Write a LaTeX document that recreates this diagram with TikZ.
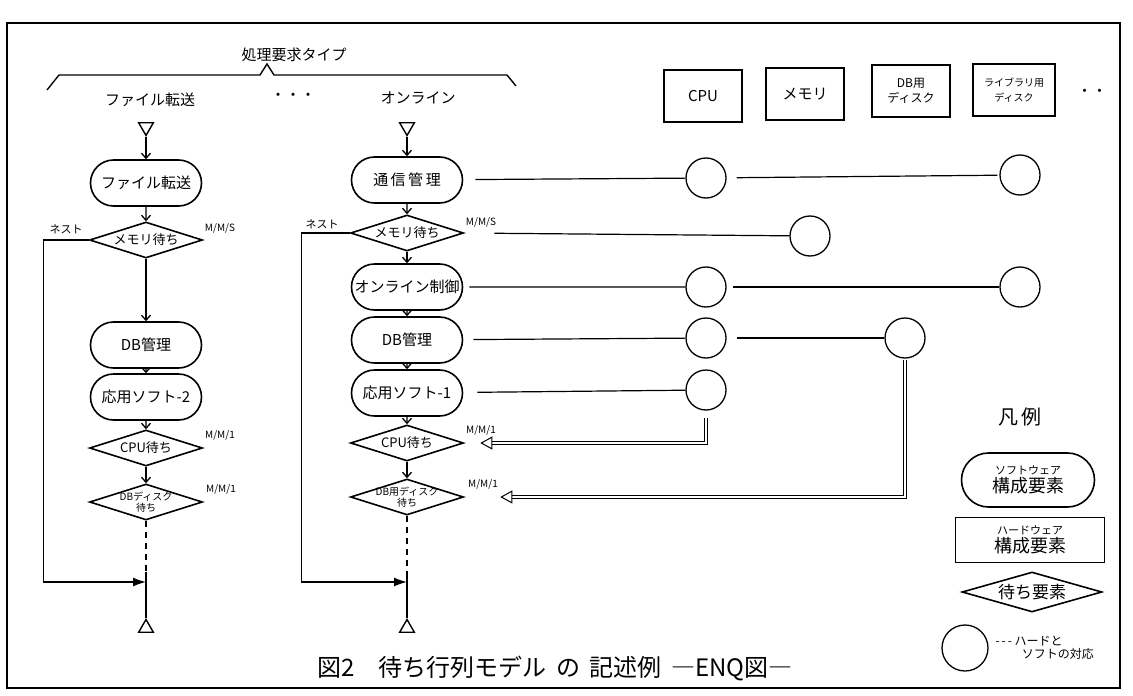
\documentclass[tikz,border=0pt]{standalone}
\usepackage{fontspec}
\setmainfont{Noto Sans CJK JP}
\usepackage{tikz}
\usetikzlibrary{arrows.meta,positioning,shapes.geometric,shapes.misc,calc}
\tikzset{
  softbox/.style={draw, rounded rectangle, line width=1.6pt, minimum width=115pt,
                  minimum height=46pt, inner sep=2pt, font=\fontsize{15}{17}\selectfont},
  hardbox/.style={draw, rectangle, line width=1.4pt, minimum width=78pt,
                  minimum height=52pt, align=center, inner sep=1pt,
                  font=\fontsize{15}{17}\selectfont},
  waitbox/.style={draw, diamond, aspect=3.2, line width=1.6pt, minimum width=113pt,
                  minimum height=36pt, inner sep=0pt, align=center,
                  font=\fontsize{13}{14}\selectfont},
  linkcirc/.style={draw, circle, line width=1.3pt, minimum size=40pt, inner sep=0pt},
  termtri/.style={draw, regular polygon, regular polygon sides=3, line width=1.4pt,
                  minimum size=17pt, inner sep=0pt},
  flowarrow/.style={-{Straight Barb[length=5pt,width=9pt]}, line width=1.3pt},
  nestline/.style={-{Latex[length=13pt,width=9pt]}, line width=1.4pt},
  hwlink/.style={line width=1.2pt},
  dblarrow/.style={double, double distance=2.5pt, line width=1pt,
                   -{Triangle[open,length=12pt,width=13pt]}},
  qlabel/.style={font=\fontsize{10}{10}\selectfont, inner sep=0pt},
  txtlabel/.style={font=\fontsize{15}{17}\selectfont, inner sep=1pt}
}

\begin{document}
\begin{tikzpicture}[x=1pt, y=-1pt]
  \useasboundingbox (0,0) rectangle (1133,696);
  \def\xL{146} \def\xM{407} \def\xC{706}

  % frame
  \draw[line width=1.2pt] (7,23) rectangle (1120,688);

  % request types
  \node[txtlabel] (rtype) at (294,55) {処理要求タイプ};
  \draw[line width=1.4pt] (47,90) -- (59,75) -- (260,75) -- (267,64)
    -- (274,75) -- (507,75) -- (516,86);
  \node[txtlabel] (tfile) at (150,100) {ファイル転送};
  \node[txtlabel] (tdots) at (293,97) {・・・};
  \node[txtlabel] (tonl) at (418,98) {オンライン};

  % file transfer column
  \node[termtri, shape border rotate=180] (st1) at (\xL,127) {};
  \node[softbox] (s1) at (\xL,183) {ファイル転送};
  \node[waitbox] (m1) at (\xL,240) {メモリ待ち};
  \node[softbox] (db1) at (\xL,345) {DB管理};
  \node[softbox] (ap1) at (\xL,397) {応用ソフト-2};
  \node[waitbox] (cw1) at (\xL,448) {CPU待ち};
  \node[waitbox, inner sep=-5pt, font=\fontsize{10}{11}\selectfont] (dw1) at (\xL,502)
    {DBディスク\\待ち};
  \coordinate (k1) at (\xL,572);
  \coordinate (j1) at (\xL,582);
  \node[termtri] (e1) at (\xL,628) {};

  \draw[flowarrow] (st1) -- (s1);
  \draw[flowarrow] (s1) -- (m1);
  \draw[flowarrow] (m1) -- (db1);
  \draw[flowarrow] (db1) -- (ap1);
  \draw[flowarrow] (ap1) -- (cw1);
  \draw[flowarrow] (cw1) -- (dw1);
  \draw[line width=1.3pt, dashed, dash pattern=on 6pt off 5pt] (dw1) -- (k1);
  \draw[line width=1.3pt] (k1) -- (e1.north);
  \draw[nestline] (m1.west) -- ++(-45,0) |- (j1);
  \node[qlabel] (q11) at (220,228) {M/M/S};
  \node[qlabel] (q12) at (220,435) {M/M/1};
  \node[qlabel] (q13) at (221,489) {M/M/1};
  \node[font=\fontsize{11}{11}\selectfont] (n1) at (66,229) {ネスト};

  % online column
  \node[termtri, shape border rotate=180] (st2) at (\xM,127) {};
  \node[softbox] (s2) at (\xM,180) {通\,信\,管\,理};
  \node[waitbox] (m2) at (\xM,233) {メモリ待ち};
  \node[softbox] (ol2) at (\xM,287) {オンライン制御};
  \node[softbox] (db2) at (\xM,340) {DB管理};
  \node[softbox] (ap2) at (\xM,393) {応用ソフト-1};
  \node[waitbox] (cw2) at (\xM,443) {CPU待ち};
  \node[waitbox, inner sep=-5pt, font=\fontsize{10}{11}\selectfont] (dw2) at (\xM,497)
    {DB用ディスク\\待ち};
  \coordinate (k2) at (\xM,572);
  \coordinate (j2) at (\xM,582);
  \node[termtri] (e2) at (\xM,628) {};

  \draw[flowarrow] (st2) -- (s2);
  \draw[flowarrow] (s2) -- (m2);
  \draw[flowarrow] (m2) -- (ol2);
  \draw[flowarrow] (ol2) -- (db2);
  \draw[flowarrow] (db2) -- (ap2);
  \draw[flowarrow] (ap2) -- (cw2);
  \draw[flowarrow] (cw2) -- (dw2);
  \draw[line width=1.3pt, dashed, dash pattern=on 6pt off 5pt] (dw2) -- (k2);
  \draw[line width=1.3pt] (k2) -- (e2.north);
  \draw[nestline] (m2.west) -- ++(-48,0) |- (j2);
  \node[qlabel] (q21) at (481,222) {M/M/S};
  \node[qlabel] (q22) at (481,430) {M/M/1};
  \node[qlabel] (q23) at (483,484) {M/M/1};
  \node[font=\fontsize{11}{11}\selectfont] (n2) at (322,224) {ネスト};

  % hardware
  \node[hardbox] (cpu) at (703,96) {CPU};
  \node[hardbox] (mem) at (805,94) {メモリ};
  \node[hardbox, font=\fontsize{12}{15}\selectfont] (dbd) at (911,91) {DB用\\ディスク};
  \node[hardbox, minimum width=82pt, font=\fontsize{10}{15}\selectfont] (lbd) at (1014,90)
    {ライブラリ用\\ディスク};
  \node[txtlabel] (hdots) at (1092,93) {・・};

  % correspondences
  \node[linkcirc] (c11) at (\xC,178) {};
  \node[linkcirc] (c12) at (1020,175) {};
  \node[linkcirc] (c21) at (810,236) {};
  \node[linkcirc] (c31) at (\xC,287) {};
  \node[linkcirc] (c32) at (1020,287) {};
  \node[linkcirc] (c41) at (\xC,338) {};
  \node[linkcirc] (c42) at (905,338) {};
  \node[linkcirc] (c51) at (\xC,390) {};

  \draw[hwlink, shorten <=12pt] (s2) -- (c11);
  \draw[hwlink, shorten <=10pt, shorten >=2pt] (c11) -- (c12);
  \draw[hwlink, shorten <=30pt] (m2.east) -- (c21);
  \draw[hwlink, shorten <=6pt] (ol2) -- (c31);
  \draw[hwlink, shorten <=6pt] (c31) -- (c32);
  \draw[hwlink, shorten <=10pt] (db2) -- (c41);
  \draw[hwlink, shorten <=10pt] (c41) -- (c42);
  \draw[hwlink, shorten <=14pt] (ap2) -- (c51);

  \coordinate (t1) at (\xC,418);
  \coordinate (t2) at (905,360);
  \draw[dblarrow, shorten >=16pt] (t1) |- (cw2.east);
  \draw[dblarrow, shorten >=36pt] (t2) |- (dw2.east);

  % legend
  \node[font=\fontsize{20}{22}\selectfont] (lg) at (1020,417) {凡\,例};
  \node[softbox, minimum width=137pt, minimum height=54pt, align=center,
        font=\fontsize{18}{18}\selectfont] (lsoft) at (1028,480)
    {{\fontsize{11}{12}\selectfont ソフトウェア}\\構成要素};
  \node[hardbox, minimum width=149pt, minimum height=45pt,
        font=\fontsize{18}{18}\selectfont] (lhard) at (1030,540)
    {{\fontsize{11}{12}\selectfont ハードウェア}\\構成要素};
  \node[waitbox, minimum width=140pt, minimum height=40pt,
        font=\fontsize{17}{18}\selectfont] (lwait) at (1032,592) {待ち要素};
  \node[linkcirc, minimum size=46pt] (lcirc) at (965,648) {};
  \node[font=\fontsize{12}{13}\selectfont, align=left, anchor=west] (ltext)
    at (992,648) {{-}\,{-}\,{-} ハードと\\\hspace*{2.2em}ソフトの対応};

  % caption
  \node[font=\fontsize{24}{26}\selectfont] (cap) at (555,668)
    {図2\quad 待ち行列モデル\, の\, 記述例\, ―ENQ図―};
\end{tikzpicture}
\end{document}
